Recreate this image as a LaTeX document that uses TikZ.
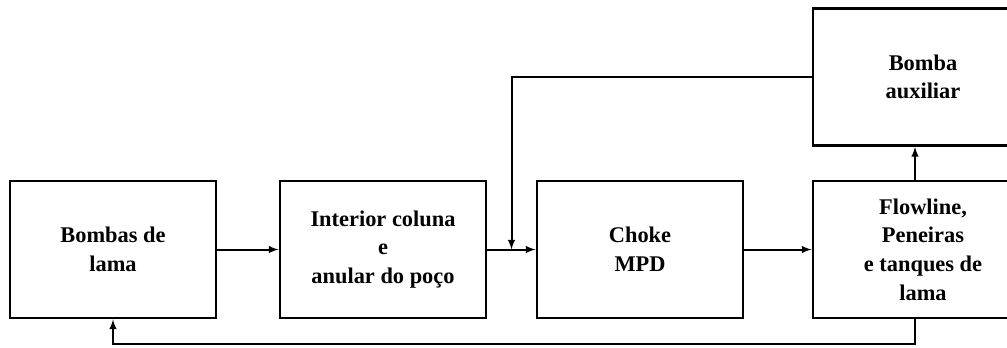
\documentclass[tikz,border=0pt]{standalone}
\usepackage{fontspec}
\setmainfont{Liberation Serif}
\usepackage{tikz}
\usetikzlibrary{arrows, positioning, calc}
\tikzstyle{block} = [draw, rectangle, line width=2.2pt, align=center, minimum height=102.75pt, minimum width=154.5pt, font=\bfseries\fontsize{16.8}{21.5}\selectfont]
\tikzstyle{wide} = [minimum width=165pt]

\begin{document}
\begin{tikzpicture}[auto, x=0.75pt, y=0.75pt, line width=1.5pt]
        \useasboundingbox (0,0) rectangle (1007,-347);
        \node[block] (lama) at (113,-249.5) {Bombas de\\ lama};
        \node[block, right of = lama, node distance=202.5pt] (poco) {Interior coluna\\ e\\ anular do poço};
        \node[block, right of = poco, node distance=192.75pt] (choke) {Choke\\ MPD};
        \node[block, wide, right of = choke, node distance=212.25pt] (tanques) {Flowline,\\ Peneiras\\ e tanques de\\ lama};
        \node[block, wide, above of = tanques, node distance=129.4pt] (aux) {Bomba\\ auxiliar};
        \coordinate (mix) at ($(poco.east)!0.5!(choke.west)$);
        \draw[-latex] (lama) -- (poco);
        \draw[-latex] (poco) -- (choke);
        \draw[-latex] (choke) -- (tanques);
        \draw[-latex] ([xshift=-6pt]tanques.north) -- ([xshift=-6pt]aux.south);
        \draw[-latex] (aux.west) -| (mix);
        \draw[-latex] ([xshift=-6pt]tanques.south) -- ++(0,-25) -| (lama.south);
    \end{tikzpicture}
\end{document}
